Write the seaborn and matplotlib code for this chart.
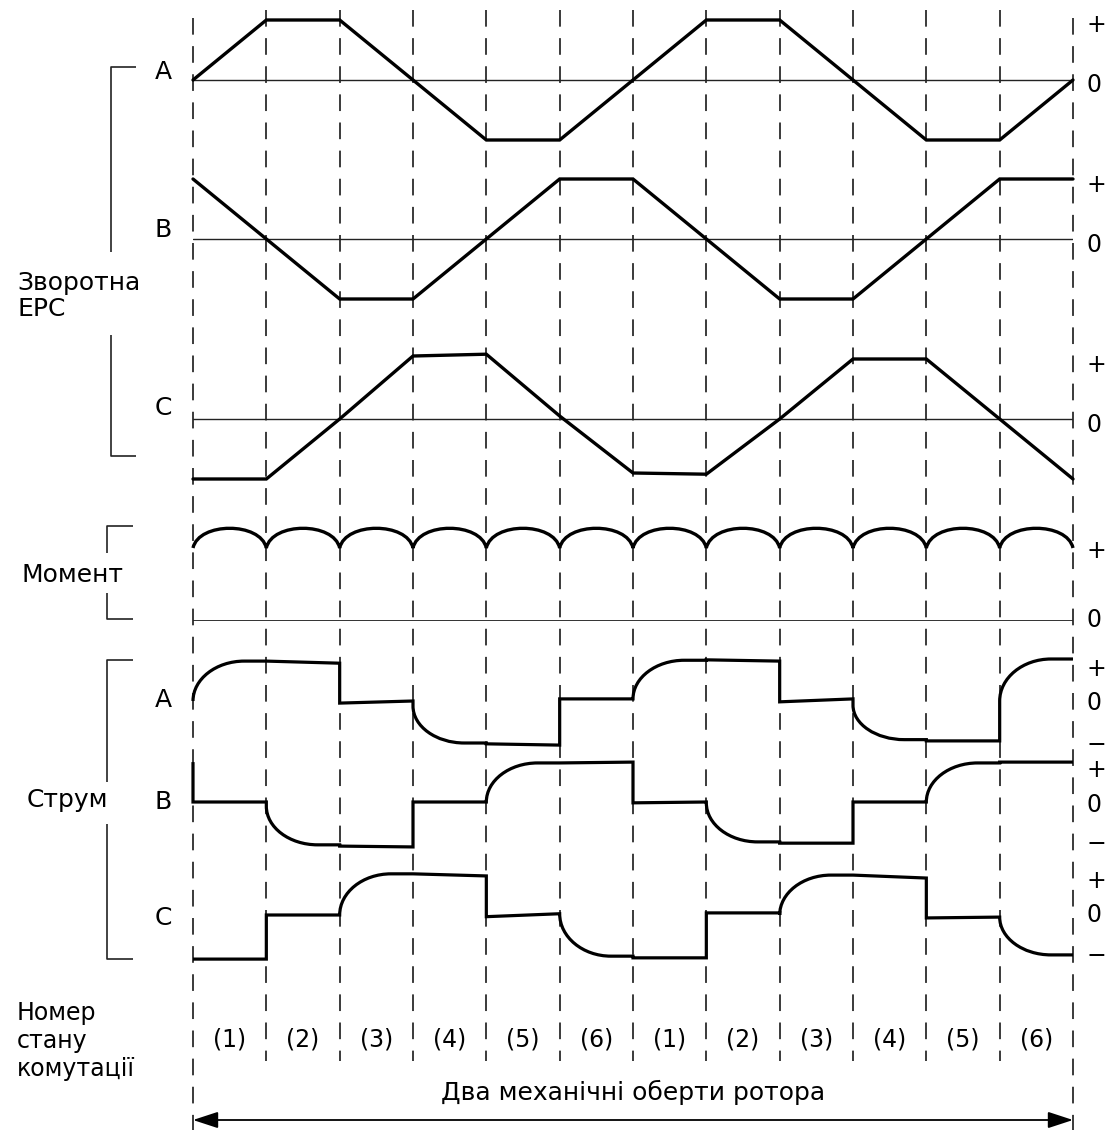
import numpy as np
import pandas as pd
import matplotlib
matplotlib.use("Agg")
import matplotlib.pyplot as plt
import matplotlib.transforms as mtransforms
from matplotlib.path import Path
from matplotlib.patches import PathPatch
import seaborn as sns

sns.set_theme(style="white")
plt.rcParams["font.family"] = ["DejaVu Sans"]
plt.rcParams["text.color"] = "black"
plt.rcParams["ytick.color"] = "black"
plt.rcParams["ytick.labelcolor"] = "black"

# ---------------- data ----------------
sector_edges = [0, 1, 2, 3, 4, 5, 6, 7, 8, 9, 10, 11, 12]
state_labels = ["(1)", "(2)", "(3)", "(4)", "(5)", "(6)",
                "(1)", "(2)", "(3)", "(4)", "(5)", "(6)"]
phase_names = ["A", "B", "C"]
level_labels = ["+", "0", "−"]
torque_labels = ["+", "0"]

# back-EMF (trapezoidal), value at every sector edge
emf_a = [0, 1, 1, 0, -1, -1, 0, 1, 1, 0, -1, -1, 0]
emf_b = [1, 0, -1, -1, 0, 1, 1, 0, -1, -1, 0, 1, 1]
emf_c = [-1, -1, 0, 1.05, 1.08, 0.05, -0.9, -0.92, 0, 1, 1, 0, -1]

# torque ripple: value at commutation cusps and at arc tops
torque_cusp = [1.0, 1.0, 1.0, 1.0, 1.0, 1.0, 1.0, 1.0, 1.0, 1.0, 1.0, 1.0, 1.0]
torque_peak = [1.27, 1.27, 1.27, 1.27, 1.27, 1.27, 1.27, 1.27, 1.27, 1.27, 1.27, 1.27]

# phase currents per sector: shape, value at sector start, value at sector end
cur_a_kind = ["rise", "flat", "flat", "fall", "flat", "flat",
              "rise", "flat", "flat", "fall", "flat", "rise"]
cur_a_start = [0.0, 0.95, -0.05, -0.12, -1.02, 0.05, 0.05, 0.98, -0.02, -0.1, -0.95, 0.0]
cur_a_end = [0.95, 0.90, 0.0, -1.0, -1.05, 0.05, 0.97, 0.95, 0.05, -0.92, -0.95, 1.0]
cur_a_lead = 0.0

cur_b_kind = ["flat", "fall", "flat", "flat", "rise", "flat",
              "flat", "fall", "flat", "flat", "rise", "flat"]
cur_b_start = [0.0, -0.1, -1.05, 0.0, 0.0, 0.93, -0.02, -0.02, -0.98, 0.0, 0.0, 0.95]
cur_b_end = [0.0, -1.02, -1.07, 0.0, 0.93, 0.95, 0.0, -0.95, -0.98, 0.0, 0.93, 0.95]
cur_b_lead = 0.95

cur_c_kind = ["flat", "flat", "rise", "flat", "flat", "fall",
              "flat", "flat", "rise", "flat", "flat", "fall"]
cur_c_start = [-1.05, 0.0, 0.0, 0.98, -0.04, 0.03, -1.02, 0.05, 0.0, 0.95, -0.07, -0.05]
cur_c_end = [-1.05, 0.0, 0.98, 0.93, 0.03, -0.98, -1.02, 0.05, 0.95, 0.88, -0.05, -0.95]
cur_c_lead = -1.05

# ---------------- layout ----------------
W, H = 1109, 1131
X_LEFT, X_RIGHT = 193, 1073
INK = "black"
THIN = "#222222"
FS_LEFT = 18
FS_PHASE = 18
FS_LEVEL = 17
FS_STATE = 17
FS_BOTTOM = 18

fig = plt.figure(figsize=(W / 100, H / 100), dpi=100)
fig.patch.set_facecolor("white")
bg = fig.add_axes([0, 0, 1, 1])
bg.set_xlim(0, W)
bg.set_ylim(H, 0)
bg.axis("off")


def row_axes(top_px, bottom_px, ylim, ticks, labels):
    ax = fig.add_axes([X_LEFT / W, 1 - bottom_px / H,
                       (X_RIGHT - X_LEFT) / W, (bottom_px - top_px) / H])
    ax.set_xlim(0, 12)
    ax.set_ylim(*ylim)
    ax.patch.set_alpha(0)
    for sp in ax.spines.values():
        sp.set_visible(False)
    ax.set_xticks([])
    ax.set_yticks(ticks)
    ax.set_yticklabels(labels, fontsize=FS_LEVEL, color="black")
    ax.tick_params(axis="y", left=False, right=False, labelleft=False,
                   labelright=True, length=0, pad=10)
    ax.grid(False)
    return ax


def finish(ax, ylim):
    ax.set_xlim(0, 12)
    ax.set_ylim(*ylim)
    ax.set_xlabel("")
    ax.set_ylabel("")


# ---- back EMF rows ----
emf_rows = [(emf_a, 20, 140), (emf_b, 179, 299), (emf_c, 359, 479)]
emf_axes = []
for vals, top, bot in emf_rows:
    ax = row_axes(top, bot, (-1, 1), [0.95, -0.05, -1.05], level_labels)
    ax.axhline(0, color=THIN, lw=1.0, zorder=1)
    df = pd.DataFrame({"s": sector_edges, "v": vals})
    sns.lineplot(data=df, x="s", y="v", ax=ax, color=INK, lw=2.4,
                 estimator=None, sort=False, clip_on=False,
                 solid_joinstyle="miter", zorder=3)
    finish(ax, (-1, 1))
    emf_axes.append(ax)

# ---- torque row ----
tax = row_axes(548, 621, (0, 1), [1.0, 0.05], torque_labels)
tax.axhline(0, color=THIN, lw=1.3, zorder=1)
verts = [(sector_edges[0], torque_cusp[0])]
codes = [Path.MOVETO]
for i in range(12):
    a, b, p = torque_cusp[i], torque_cusp[i + 1], torque_peak[i]
    c = (p - 0.125 * (a + b)) / 0.75
    s0, s1 = sector_edges[i], sector_edges[i + 1]
    verts += [(s0 + 0.08, c), (s1 - 0.08, c), (s1, b)]
    codes += [Path.CURVE4] * 3
tax.add_patch(PathPatch(Path(verts, codes), fill=False, ec=INK, lw=2.4,
                        clip_on=False, zorder=3))
finish(tax, (0, 1))


# ---- current rows ----
def current_path(kind, start, end, lead, w=0.7, k=0.55):
    verts = [(sector_edges[0], lead)]
    codes = [Path.MOVETO]
    for i in range(12):
        s0, s1 = sector_edges[i], sector_edges[i + 1]
        verts.append((s0, start[i]))
        codes.append(Path.LINETO)
        if kind[i] == "flat":
            verts.append((s1, end[i]))
            codes.append(Path.LINETO)
        else:
            d = end[i] - start[i]
            verts += [(s0, start[i] + k * d), (s0 + w * (1 - k), end[i]), (s0 + w, end[i])]
            codes += [Path.CURVE4] * 3
            verts.append((s1, end[i]))
            codes.append(Path.LINETO)
    return Path(verts, codes)


cur_rows = [
    (cur_a_kind, cur_a_start, cur_a_end, cur_a_lead, 701, [0.83, 0.02, -0.98]),
    (cur_b_kind, cur_b_start, cur_b_end, cur_b_lead, 802, [0.83, 0.0, -0.95]),
    (cur_c_kind, cur_c_start, cur_c_end, cur_c_lead, 915, [0.88, 0.07, -0.92]),
]
cur_axes = []
for kind, st, en, lead, zero_px, ticks in cur_rows:
    ax = row_axes(zero_px - 42, zero_px + 42, (-1, 1), ticks, level_labels)
    ax.add_patch(PathPatch(current_path(kind, st, en, lead), fill=False, ec=INK,
                           lw=2.3, clip_on=False, zorder=3, joinstyle="miter",
                           capstyle="butt"))
    finish(ax, (-1, 1))
    cur_axes.append(ax)

# ---- shared vertical dashed commutation lines (x in sector units) ----
ref = cur_axes[-1]
trans = mtransforms.blended_transform_factory(ref.transData, bg.transData)
for s in sector_edges:
    outer = s in (sector_edges[0], sector_edges[-1])
    y0, y1 = (18, 1130) if outer else (10, 1061)
    bg.plot([s, s], [y0, y1], transform=trans, color=THIN, lw=1.25,
            dashes=(9.6, 6.6), zorder=1)

# ---- brackets on the left ----
bracket_kw = dict(color=THIN, lw=1.2, solid_capstyle="butt")
for xs, ys in [
    ([136, 111, 111], [67, 67, 252]), ([111, 111, 136], [335, 456, 456]),
    ([133, 107, 107], [526, 526, 553]), ([107, 107, 133], [593, 619, 619]),
    ([133, 107, 107], [660, 660, 782]), ([107, 107, 133], [824, 959, 959]),
]:
    bg.plot(xs, ys, **bracket_kw)

# ---- left-hand labels ----
bg.text(17, 296, "Зворотна\nЕРС", fontsize=FS_LEFT, ha="left", va="center",
        linespacing=1.12)
bg.text(22, 575, "Момент", fontsize=FS_LEFT, ha="left", va="center")
bg.text(27, 800, "Струм", fontsize=FS_LEFT, ha="left", va="center")
bg.text(17, 1041, "Номер\nстану\nкомутації", fontsize=FS_LEFT - 1, ha="left",
        va="center", linespacing=1.2)
for name, y in zip(phase_names, [72, 230, 408]):
    bg.text(163, y, name, fontsize=FS_PHASE, ha="center", va="center")
for name, y in zip(phase_names, [700, 802, 918]):
    bg.text(163, y, name, fontsize=FS_PHASE, ha="center", va="center")

# ---- commutation state numbers ----
for i, lab in enumerate(state_labels):
    bg.text(sector_edges[i] + 0.5, 1040, lab, transform=trans, fontsize=FS_STATE,
            ha="center", va="center")

# ---- two mechanical revolutions arrow ----
bg.text(6, 1092, "Два механічні оберти ротора", transform=trans, fontsize=FS_BOTTOM,
        ha="center", va="center")
bg.annotate("", xy=(sector_edges[-1], 1120), xytext=(sector_edges[0], 1120),
            xycoords=trans, textcoords=trans,
            arrowprops=dict(arrowstyle="<|-|>,head_length=1.1,head_width=0.36",
                            color=INK, lw=1.3, shrinkA=0, shrinkB=0,
                            mutation_scale=14))

fig.savefig("out.png", dpi=100, facecolor="white")
